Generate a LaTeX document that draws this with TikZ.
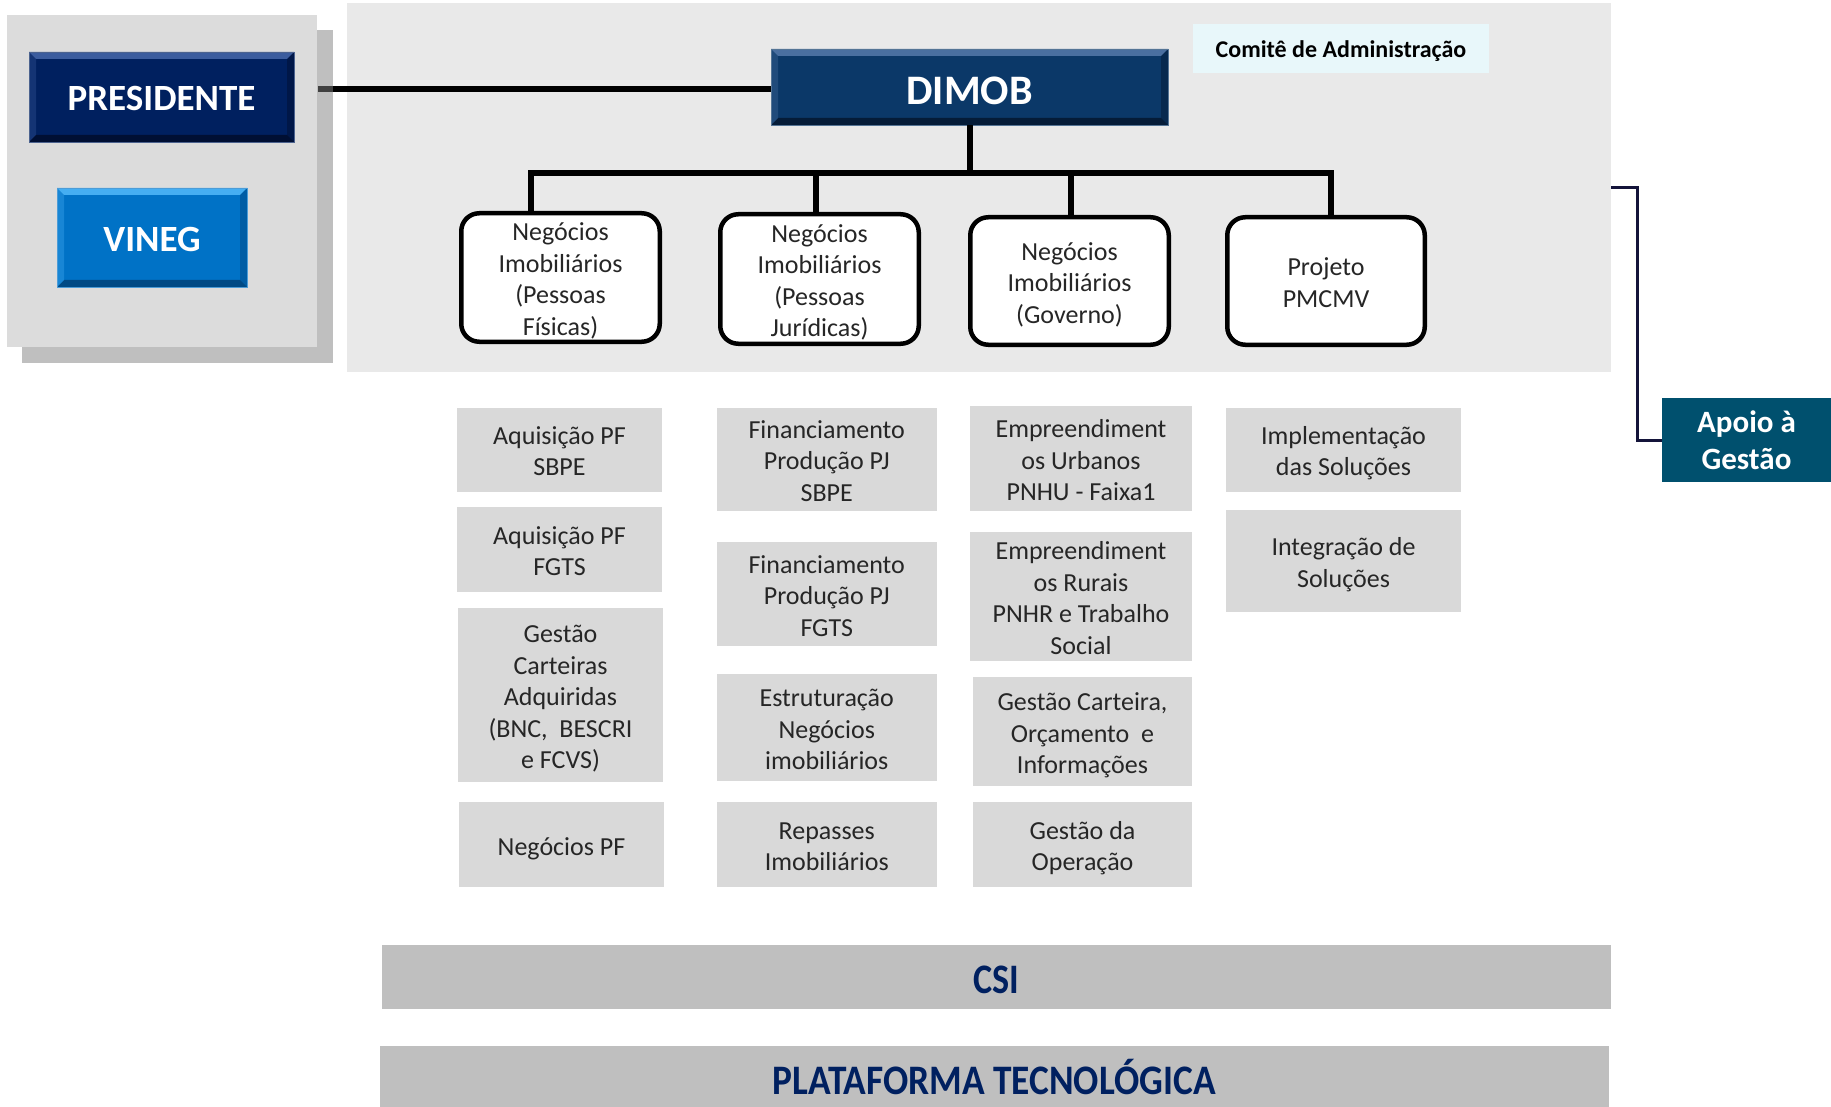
\documentclass[tikz,border=0pt]{standalone}
\usepackage{fontspec}
\setmainfont{Carlito}
\usepackage{graphicx}
\usepackage{array}
\usetikzlibrary{calc}
\definecolor{txt}{HTML}{262626}
\definecolor{subgray}{HTML}{D9D9D9}
\definecolor{mainpanel}{HTML}{E9E9E9}
\definecolor{leftpanel}{HTML}{DCDCDC}
\definecolor{shadowgray}{HTML}{BFBFBF}
\definecolor{barsgray}{HTML}{BFBFBF}
\definecolor{navytxt}{HTML}{002060}
\definecolor{presfill}{HTML}{00205F}
\definecolor{prestop}{HTML}{3B5C9E}
\definecolor{presbot}{HTML}{000F33}
\definecolor{vinfill}{HTML}{0072C6}
\definecolor{vintop}{HTML}{45AEF2}
\definecolor{vinbot}{HTML}{004A85}
\definecolor{dimfill}{HTML}{0B3868}
\definecolor{dimtop}{HTML}{4A6FA0}
\definecolor{dimbot}{HTML}{051C38}
\definecolor{comfill}{HTML}{E8F7FA}
\definecolor{apoiofill}{HTML}{00506E}
\definecolor{apoioline}{HTML}{14143A}
\newcommand{\mylinestrut}{\rule[-5.2pt]{0pt}{31.5pt}}
\newcommand{\mlines}[1]{{\renewcommand{\arraystretch}{0.1}\setlength{\tabcolsep}{0pt}%
  \begin{tabular}{@{}>{\mylinestrut}c@{}}#1\end{tabular}}}
\tikzset{
  bevel/.style n args={3}{fill=#1, path picture={
    \fill[#2] (path picture bounding box.north west) -- (path picture bounding box.north east)
      -- ([shift={(-7pt,-7pt)}]path picture bounding box.north east)
      -- ([shift={(7pt,-7pt)}]path picture bounding box.north west) -- cycle;
    \fill[#3] (path picture bounding box.south west) -- (path picture bounding box.south east)
      -- ([shift={(-7pt,7pt)}]path picture bounding box.south east)
      -- ([shift={(7pt,7pt)}]path picture bounding box.south west) -- cycle;
    \fill[#3, opacity=0.5] (path picture bounding box.north east) -- (path picture bounding box.south east)
      -- ([shift={(-7pt,7pt)}]path picture bounding box.south east)
      -- ([shift={(-7pt,-7pt)}]path picture bounding box.north east) -- cycle;
    \fill[#2, opacity=0.35] (path picture bounding box.north west) -- (path picture bounding box.south west)
      -- ([shift={(7pt,7pt)}]path picture bounding box.south west)
      -- ([shift={(7pt,-7pt)}]path picture bounding box.north west) -- cycle;
  }},
  bigbtn/.style={inner sep=0pt, text=white, font=\bfseries\fontsize{37}{40}\selectfont,
    text height=28pt, text depth=0pt},
  negbox/.style={draw=black, line width=4.5pt, rounded corners=18pt, fill=white,
    inner sep=0pt, text=txt, font=\fontsize{26}{31.5}\selectfont},
  subbox/.style={fill=subgray, inner sep=0pt, text=txt,
    font=\fontsize{26}{31.5}\selectfont},
  conn/.style={line width=5.5pt, black},
  barbox/.style={fill=barsgray, inner sep=0pt, text=navytxt, font=\bfseries\fontsize{42}{44}\selectfont,
    text depth=0pt},
}
\begin{document}
\begin{tikzpicture}[x=1pt,y=-1pt]
\useasboundingbox (0,0) rectangle (1831,1107);
\fill[white] (0,0) rectangle (1831,1107);
% main panel
\node[fill=mainpanel, inner sep=0pt, minimum width=1264pt, minimum height=369pt] (main) at (979,187.5) {};
% connector from presidente
\coordinate (pl) at (318,89);
\draw[conn] (pl) -- (pl -| 771,0);
% left panel
\node[fill=shadowgray, inner sep=0pt, minimum width=311pt, minimum height=333pt] (lshadow) at (177.5,196.5) {};
\node[fill=leftpanel, inner sep=0pt, minimum width=310pt, minimum height=332pt] (lpanel) at (162,181) {};
\draw[line width=5.5pt, black!75] (pl) -- ++(15,0);
\node[bigbtn, bevel={presfill}{prestop}{presbot}, draw=presfill!70!white, line width=0.8pt,
  minimum width=265pt, minimum height=90pt] (pres) at (161.5,97) {PRESIDENTE};
\node[bigbtn, bevel={vinfill}{vintop}{vinbot}, draw=vinfill!70!white, line width=0.8pt,
  minimum width=190pt, minimum height=99pt] (vineg) at (152,237.5) {VINEG};
% DIMOB
\node[bigbtn, bevel={dimfill}{dimtop}{dimbot}, draw=dimfill!70!white, line width=0.8pt,
  font=\bfseries\fontsize{42}{44}\selectfont, text height=35pt,
  minimum width=397pt, minimum height=76pt] (dimob) at (969.5,87) {DIMOB};
\node[fill=comfill, inner sep=0pt, minimum width=296pt, minimum height=49pt, text=black,
  text height=22pt, text depth=4pt,
  font=\bfseries\fontsize{24}{27}\selectfont] (comite) at (1341,49) {Comitê de Administração};
% level-2 boxes
\node[negbox, minimum width=198.5pt, minimum height=128.5pt] (n1) at (560.5,277.5) {\mlines{Negócios\\Imobiliários\\(Pessoas\\Físicas)}};
\node[negbox, minimum width=198.5pt, minimum height=129.5pt] (n2) at (819.5,279) {\mlines{Negócios\\Imobiliários\\(Pessoas\\Jurídicas)}};
\node[negbox, minimum width=198.5pt, minimum height=127.5pt] (n3) at (1069.5,281) {\mlines{Negócios\\Imobiliários\\(Governo)}};
\node[negbox, minimum width=197.5pt, minimum height=127.5pt] (n4) at (1326,281) {\mlines{Projeto\\PMCMV}};
% bus
\coordinate (bus) at (970,173);
\coordinate (b1) at (531,173);
\coordinate (b2) at (816,173);
\coordinate (b3) at (1071,173);
\coordinate (b4) at (1331,173);
\draw[conn] (dimob.south -| bus) -- (bus);
\draw[conn, line cap=rect] (b1) -- (b4);
\draw[conn] (b1) -- (b1 |- n1.north);
\draw[conn] (b2) -- (b2 |- n2.north);
\draw[conn] (b3) -- (b3 |- n3.north);
\draw[conn] (b4) -- (b4 |- n4.north);
% column 1
\node[subbox, minimum width=205pt, minimum height=84pt] (c1a) at (559.5,449.5) {\mlines{Aquisição PF\\SBPE}};
\node[subbox, minimum width=205pt, minimum height=85pt] (c1b) at (559.5,549.5) {\mlines{Aquisição PF\\FGTS}};
\node[subbox, minimum width=205pt, minimum height=174pt] (c1c) at (560.5,695) {\mlines{Gestão\\Carteiras\\Adquiridas\\(BNC,~ BESCRI\\e FCVS)}};
\node[subbox, minimum width=205pt, minimum height=85pt] (c1d) at (561.5,844.5) {\mlines{Negócios PF}};
% column 2
\node[subbox, minimum width=219.5pt, minimum height=103.5pt] (c2a) at (826.75,459.25) {\mlines{Financiamento\\Produção PJ\\SBPE}};
\node[subbox, minimum width=219.5pt, minimum height=104pt] (c2b) at (826.75,594) {\mlines{Financiamento\\Produção PJ\\FGTS}};
\node[subbox, minimum width=219.5pt, minimum height=107pt] (c2c) at (826.75,727.5) {\mlines{Estruturação\\Negócios\\imobiliários}};
\node[subbox, minimum width=219.5pt, minimum height=85pt] (c2d) at (826.75,844.5) {\mlines{Repasses\\Imobiliários}};
% column 3
\node[subbox, minimum width=222pt, minimum height=105pt] (c3a) at (1081,458.5) {\mlines{Empreendiment\\os Urbanos\\PNHU - Faixa1}};
\node[subbox, minimum width=222pt, minimum height=129pt] (c3b) at (1081,596.5) {\mlines{Empreendiment\\os Rurais\\PNHR e Trabalho\\Social}};
\node[subbox, minimum width=219pt, minimum height=109pt] (c3c) at (1082.5,731.5) {\mlines{Gestão Carteira,\\Orçamento~ e\\Informações}};
\node[subbox, minimum width=219pt, minimum height=85pt] (c3d) at (1082.5,844.5) {\mlines{Gestão da\\Operação}};
% column 4
\node[subbox, minimum width=235pt, minimum height=84pt] (c4a) at (1343.5,449.5) {\mlines{Implementação\\das Soluções}};
\node[subbox, minimum width=235pt, minimum height=102pt] (c4b) at (1343.5,561) {\mlines{Integração de\\Soluções}};
% Apoio
\node[fill=apoiofill, inner sep=0pt, minimum width=169pt, minimum height=84pt, text=white, align=center,
  font=\bfseries\fontsize{31}{37}\selectfont] (apoio) at (1746.5,440) {Apoio à\\Gestão};
\coordinate (ag) at (1611,188);
\draw[apoioline, line width=3pt] (ag) -- ++(26,0) |- (apoio.west);
% bars
\node[barbox, text height=32pt, minimum width=1229pt, minimum height=64pt] (csi) at (996.5,977) {\scalebox{0.86}[1]{CSI}};
\node[barbox, text height=35pt, minimum width=1229.5pt, minimum height=61pt] (plat) at (994.25,1076.5) {\scalebox{0.89}[1]{PLATAFORMA TECNOLÓGICA}};
\end{tikzpicture}
\end{document}
